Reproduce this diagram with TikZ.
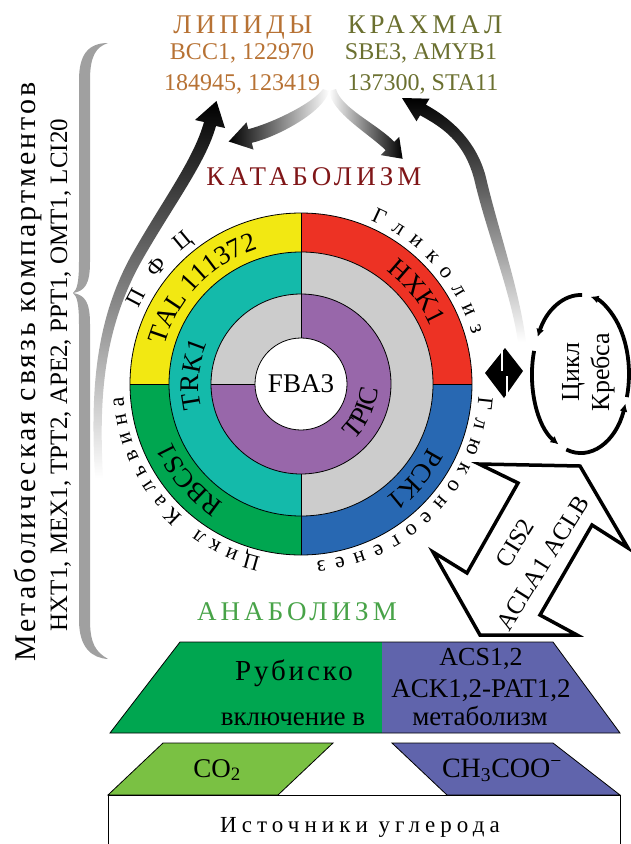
\documentclass[tikz,border=0pt]{standalone}
\usepackage{fontspec}
\setmainfont{Liberation Serif}
\newfontfamily\spacedfont[LetterSpace=15]{Liberation Serif}
\newfontfamily\midfont[LetterSpace=10]{Liberation Serif}
\newfontfamily\widefont[LetterSpace=22]{Liberation Serif}
\usepackage{tikz}
\usetikzlibrary{arrows.meta,decorations.text}
\definecolor{dflipid}{RGB}{183,114,52}
\definecolor{dfstarch}{RGB}{107,112,48}
\definecolor{dfcatab}{RGB}{128,22,24}
\definecolor{dfanab}{RGB}{72,163,72}
\definecolor{dfyellow}{RGB}{242,232,18}
\definecolor{dfred}{RGB}{237,50,36}
\definecolor{dfblue}{RGB}{40,104,178}
\definecolor{dfgreen}{RGB}{0,166,80}
\definecolor{dfteal}{RGB}{20,186,170}
\definecolor{dfgray}{RGB}{204,204,204}
\definecolor{dfpurple}{RGB}{152,103,170}
\definecolor{dflightgreen}{RGB}{122,193,67}
\definecolor{dfviolet}{RGB}{96,100,172}
\definecolor{dfbrace}{RGB}{160,160,160}
\newcommand\ringfont{\fontsize{27}{27}\selectfont}
\newcommand\outerfont{\fontsize{22}{22}\selectfont}
\newcommand\pfcfont{\fontsize{23}{23}\selectfont}
\tikzstyle{ringline} = [line width=0.8pt]
\tikzstyle{toptitle} = [anchor=base, inner sep=0pt, font=\spacedfont\fontsize{27}{27}\selectfont]
\tikzstyle{genes} = [anchor=base, inner sep=0pt, font=\fontsize{24}{24}\selectfont]
\tikzstyle{platetext} = [anchor=base, inner sep=0pt, font=\fontsize{27}{27}\selectfont]
\tikzstyle{plate} = [draw=black, line width=0.8pt]
\tikzstyle{cycarrow} = [line width=3.8pt, -{Latex[length=8pt,width=8pt]}]
\tikzstyle{sidetext} = [anchor=base, rotate=90, inner sep=0pt]

\begin{document}
\begin{tikzpicture}[x=1pt,y=1pt]
\useasboundingbox (0,0) rectangle (631,-844);
\coordinate (C) at (301,-384);
\coordinate (K) at (580.5,-374);

\fill[dfbrace] (108,-43) .. controls (88,-43) and (79,-55) .. (79,-80) -- (79,-262) .. controls (79,-282) and (77,-290) .. (73,-293) .. controls (77,-296) and (79,-304) .. (79,-324) -- (79,-620) .. controls (79,-648) and (92,-658) .. (108,-659) .. controls (96,-652) and (90,-644) .. (90,-620) -- (90,-324) .. controls (90,-302) and (85,-295) .. (73,-293) .. controls (85,-291) and (90,-284) .. (90,-262) -- (90,-80) .. controls (90,-56) and (96,-47) .. (108,-43) -- cycle;

\shade[top color=black, bottom color=white] (95,-478) .. controls (91,-400) and (92,-322) .. (135,-249) .. controls (165,-197) and (194,-158) .. (204,-122) -- (195,-120) -- (216.5,-101) -- (225,-128) -- (216,-126) .. controls (206,-162) and (175,-203) .. (145,-255) .. controls (102,-328) and (99,-400) .. (103,-478) -- cycle;
\shade[left color=black, right color=white] (323,-89) .. controls (312,-104) and (272,-123) .. (248.3,-129.2) -- (246.5,-122.4) -- (228.7,-141.5) -- (253.5,-149.6) -- (251.8,-142.8) .. controls (277,-137) and (324,-112) .. (329,-91) -- cycle;
\shade[left color=white, right color=black] (329,-91) .. controls (332,-113) and (368,-133) .. (385.7,-150.2) -- (380.8,-155.1) -- (402.6,-158.8) -- (399.2,-136.9) -- (394.3,-141.8) .. controls (377,-124) and (341,-108) .. (336,-89) -- cycle;
\shade[top color=black, bottom color=white] (518,-342) .. controls (510.5,-290.6) and (486.2,-231.3) .. (474.2,-179.3) .. controls (464.2,-141.5) and (442.1,-127.3) .. (420.1,-115.3) -- (416.5,-121.3) -- (402,-98) -- (429.5,-98.7) -- (425.9,-104.7) .. controls (447.9,-116.7) and (475.8,-138.5) .. (485.8,-176.7) .. controls (497.8,-228.7) and (519.5,-289.4) .. (526,-342) -- cycle;

\fill[dfyellow] (C) -- ++(90:171) arc (90:180:171) -- cycle;
\fill[dfred] (C) -- ++(0:171) arc (0:90:171) -- cycle;
\fill[dfblue] (C) -- ++(-90:171) arc (-90:0:171) -- cycle;
\fill[dfgreen] (C) -- ++(180:171) arc (180:270:171) -- cycle;
\fill[dfteal] (C) -- ++(90:132) arc (90:270:132) -- cycle;
\fill[dfgray] (C) -- ++(-90:132) arc (-90:90:132) -- cycle;
\fill[dfpurple] (C) circle (90);
\fill[dfgray] (C) -- ++(90:90) arc (90:180:90) -- cycle;
\foreach \r in {171,132,90}
  \draw[ringline] (C) circle (\r);
\foreach \a in {0,90,180,270}
  \draw[ringline] (C) ++(\a:132) -- ++(\a:39);
\foreach \a in {90,270}
  \draw[ringline] (C) ++(\a:90) -- ++(\a:42);
\foreach \a in {90,180}
  \draw[ringline] (C) ++(\a:46) -- ++(\a:44);
\node[circle, draw, fill=white, minimum size=92pt, inner sep=0pt, line width=0.8pt, font=\ringfont] (fba) at (C) {FBA3};

\path[shift={(C)}, decorate, decoration={text along path, text={|\ringfont|TAL 111372}, text align=center}] (181:142) arc (181:91:142);
\path[shift={(C)}, decorate, decoration={text along path, text={|\ringfont|HXK1}, text align=center}] (83:142) arc (83:-6:142);
\path[shift={(C)}, decorate, decoration={text along path, text={|\ringfont|PCK1}, text align=center}] (5:142) arc (5:-85:142);
\path[shift={(C)}, decorate, decoration={text along path, text={|\ringfont|RBCS1}, text align=center}] (-95:142) arc (-95:-184:142);
\path[shift={(C)}, decorate, decoration={text along path, text={|\ringfont|TRK1}, text align=center}] (220:102) arc (220:130:102);
\path[shift={(C)}, decorate, decoration={text along path, text={|\ringfont|TPIC}, text align=center}] (-70:77) arc (-70:20:77);
\path[shift={(C)}, decorate, decoration={text along path, text={|\outerfont|Гликолиз}, text align=fit to path}] (67:178) arc (67:16:178);
\path[shift={(C)}, decorate, decoration={text along path, text={|\outerfont|Глюконеогенез}, text align=fit to path}] (-4:178) arc (-4:-85:178);
\path[shift={(C)}, decorate, decoration={text along path, text={|\outerfont|Цикл Кальвина}, text align=fit to path}] (-103:178) arc (-103:-176:178);
\path[shift={(C)}, decorate, decoration={text along path, text={|\pfcfont|ПФЦ}, text align=fit to path}] (155:179) arc (155:127:179);

\foreach \s/\e in {-17/78, 88/152, 163/243, 253/338}
  \draw[cycarrow] (K) ++(\s:48.5 and 79) arc[start angle=\s, end angle=\e, x radius=48.5, y radius=79];
\node[sidetext, font=\fontsize{26}{26}\selectfont] (krebs1) at (579,-372) {Цикл};
\node[sidetext, font=\fontsize{26}{26}\selectfont] (krebs2) at (609,-372) {Кребса};

\fill (485,-373) -- (505,-348) -- (523,-371) -- (504,-398) -- cycle;
\draw[white, line width=1.6pt] (502,-349) -- (502,-371) (507,-376) -- (507,-397);

\draw[line width=3.5pt, fill=white, line join=miter] (479,-464) -- (518,-483) -- (467,-573) -- (433,-552) -- (480,-635) -- (577,-635) -- (540,-615) -- (592,-525) -- (628,-548) -- (580,-466) -- cycle;
\node[rotate=58, inner sep=0pt, font=\fontsize{25}{25}\selectfont] (cis) at (515,-543) {CIS2};
\node[rotate=58, inner sep=0pt, font=\fontsize{25}{25}\selectfont] (acl) at (543,-563) {ACLA1 ACLB};

\node[toptitle, text=dflipid] (lipids) at (243,-33) {ЛИПИДЫ};
\node[genes, text=dflipid] (lipgenes1) at (242,-59) {BCC1, 122970};
\node[genes, text=dflipid] (lipgenes2) at (242,-90) {184945, 123419};
\node[toptitle, text=dfstarch] (starch) at (425,-33) {КРАХМАЛ};
\node[genes, text=dfstarch] (stgenes1) at (421,-59) {SBE3, AMYB1};
\node[genes, text=dfstarch] (stgenes2) at (423,-90) {137300, STA11};
\node[toptitle, text=dfcatab] (catab) at (314,-185) {КАТАБОЛИЗМ};
\node[toptitle, text=dfanab] (anab) at (297,-620) {АНАБОЛИЗМ};

\node[sidetext, font=\midfont\fontsize{30}{30}\selectfont] (link) at (35,-372) {Метаболическая связь компартментов};
\node[sidetext, font=\fontsize{25}{25}\selectfont] (transport) at (67,-375) {HXT1, MEX1, TPT2, APE2, PPT1, OMT1, LCI20};

\fill[dfgreen] (180,-642) -- (382,-642) -- (382,-733) -- (110,-733) -- cycle;
\fill[dfviolet] (382,-642) -- (553,-642) -- (620,-733) -- (382,-733) -- cycle;
\draw[plate] (180,-642) -- (553,-642) -- (620,-733) -- (110,-733) -- cycle;
\draw[plate, fill=dflightgreen] (163,-743) -- (333,-743) -- (278,-795) -- (108,-795) -- cycle;
\draw[plate, fill=dfviolet] (392,-743) -- (553,-743) -- (620,-795) -- (447,-795) -- cycle;
\draw[plate] (108,-850) -- (108,-795) -- (620,-795) -- (620,-850);

\node[platetext, font=\midfont\fontsize{29}{29}\selectfont] (rubisco) at (294,-680) {Рубиско};
\node[platetext] (incl) at (293,-725) {включение в};
\node[platetext, font=\fontsize{26}{26}\selectfont] (acs) at (481,-665) {ACS1,2};
\node[platetext] (ack) at (481,-697) {ACK1,2-PAT1,2};
\node[platetext] (metab) at (480,-725) {метаболизм};
\node[platetext] (co2) at (217,-777) {CO\textsubscript{2}};
\node[platetext, font=\fontsize{28}{28}\selectfont] (acetate) at (502,-777) {CH\textsubscript{3}COO\textsuperscript{−}};
\node[platetext, font=\widefont\fontsize{23}{23}\selectfont] (sources) at (360,-832) {Источники углерода};
\end{tikzpicture}
\end{document}
